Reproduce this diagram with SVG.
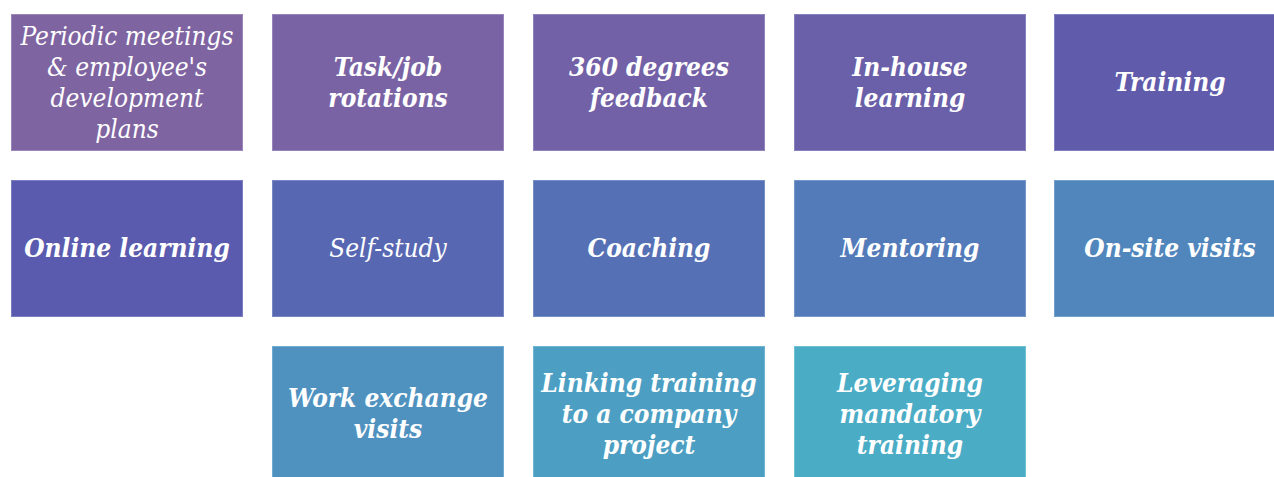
<svg xmlns="http://www.w3.org/2000/svg" width="1274" height="477" viewBox="0 0 1274 477">
<style>
.t{font-family:"DejaVu Serif Condensed","DejaVu Serif","Liberation Serif",serif;font-style:italic;font-weight:bold;font-size:26px;fill:#fff;text-anchor:middle}
.n{font-weight:normal}
</style>
<rect width="1274" height="477" fill="#fff"/>
<g id="n1"><rect x="11.5" y="14.5" width="231" height="136" fill="#7F64A2" stroke="#9A86B8"/><text class="t n" x="127" y="45">Periodic meetings<tspan x="127" dy="31">&amp; employee's</tspan><tspan x="127" dy="31">development</tspan><tspan x="127" dy="31">plans</tspan></text></g>
<g id="n2"><rect x="272.5" y="14.5" width="231" height="136" fill="#7A63A4" stroke="#9585BA"/><text class="t" x="388" y="76">Task/job<tspan x="388" dy="31">rotations</tspan></text></g>
<g id="n3"><rect x="533.5" y="14.5" width="231" height="136" fill="#7261A6" stroke="#8E84BC"/><text class="t" x="649" y="76">360 degrees<tspan x="649" dy="31">feedback</tspan></text></g>
<g id="n4"><rect x="794.5" y="14.5" width="231" height="136" fill="#6A5FA9" stroke="#8782BE"/><text class="t" x="910" y="76">In-house<tspan x="910" dy="31">learning</tspan></text></g>
<g id="n5"><rect x="1054.5" y="14.5" width="231" height="136" fill="#605BAB" stroke="#7F7FC0"/><text class="t" x="1170" y="91">Training</text></g>
<g id="n6"><rect x="11.5" y="180.5" width="231" height="136" fill="#5A5BAE" stroke="#7A7FC2"/><text class="t" x="127" y="257">Online learning</text></g>
<g id="n7"><rect x="272.5" y="180.5" width="231" height="136" fill="#5867B2" stroke="#7888C4"/><text class="t n" x="388" y="257">Self-study</text></g>
<g id="n8"><rect x="533.5" y="180.5" width="231" height="136" fill="#5570B5" stroke="#758FC7"/><text class="t" x="649" y="257">Coaching</text></g>
<g id="n9"><rect x="794.5" y="180.5" width="231" height="136" fill="#537BBA" stroke="#7398C9"/><text class="t" x="910" y="257">Mentoring</text></g>
<g id="n10"><rect x="1054.5" y="180.5" width="231" height="136" fill="#5186BC" stroke="#71A0CB"/><text class="t" x="1170" y="257">On-site visits</text></g>
<g id="n11"><rect x="272.5" y="346.5" width="231" height="136" fill="#4F92C0" stroke="#70AAD0"/><text class="t" x="388" y="407">Work exchange<tspan x="388" dy="31">visits</tspan></text></g>
<g id="n12"><rect x="533.5" y="346.5" width="231" height="136" fill="#4C9FC3" stroke="#6EB4D2"/><text class="t" x="649" y="392">Linking training<tspan x="649" dy="31">to a company</tspan><tspan x="649" dy="31">project</tspan></text></g>
<g id="n13"><rect x="794.5" y="346.5" width="231" height="136" fill="#4BACC6" stroke="#6EC0D5"/><text class="t" x="910" y="392">Leveraging<tspan x="910" dy="31">mandatory</tspan><tspan x="910" dy="31">training</tspan></text></g>
<g id="connectors"></g>
</svg>
